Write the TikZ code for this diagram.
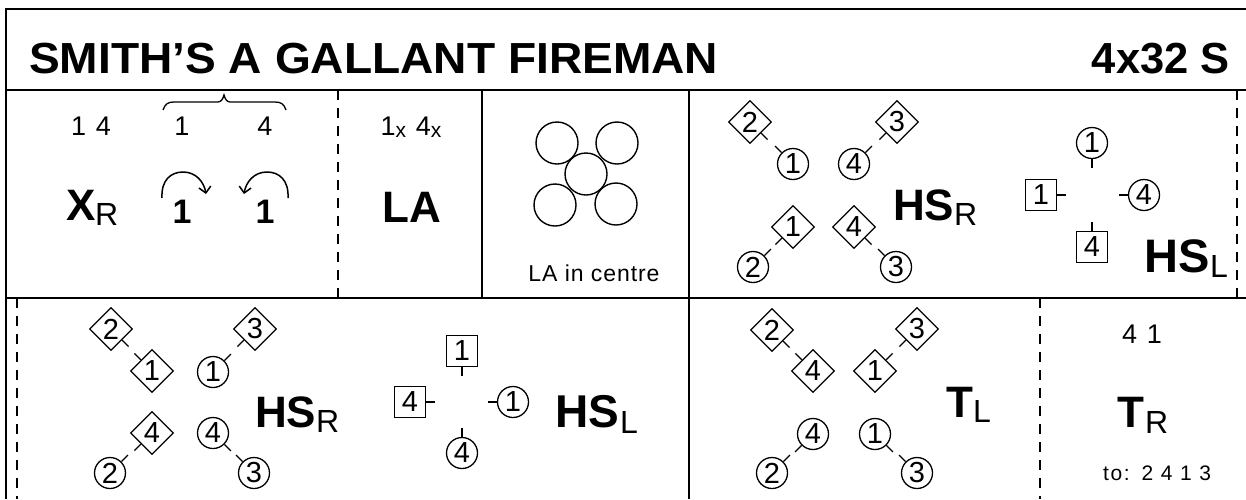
\documentclass[tikz,border=0pt]{standalone}
\usepackage{fontspec}
\setmainfont{Liberation Sans}
\newfontfamily\spc[LetterSpace=8]{Liberation Sans}
\newfontfamily\spcb[LetterSpace=4]{Liberation Sans}
\usetikzlibrary{shapes.geometric,arrows.meta}
\begin{document}
\begin{tikzpicture}[x=1pt,y=-1pt,
  frame/.style={line width=2pt},
  dashline/.style={line width=1.4pt,dash pattern=on 10pt off 8pt},
  shp/.style={draw,inner sep=0pt,line width=1.3pt,font=\fontsize{29}{29}\selectfont},
  dia/.style={shp,diamond,shape aspect=1,minimum size=43pt},
  crc/.style={shp,circle,minimum size=31pt},
  sqr/.style={shp,rectangle,minimum size=31pt},
  tick/.style={line width=1.3pt},
  big/.style={anchor=base west,inner sep=0pt,font=\fontsize{44}{44}\selectfont\bfseries},
  sub/.style={anchor=base west,inner sep=0pt,font=\fontsize{32}{32}\selectfont},
  small/.style={anchor=base,inner sep=0pt,font=\spc\fontsize{27}{27}\selectfont},
  bnum/.style={anchor=base,inner sep=0pt,font=\fontsize{34}{34}\selectfont\bfseries},
  arc/.style={line width=1.5pt,-{Straight Barb[length=6pt,width=12pt]}},
]
\useasboundingbox (0,0) rectangle (1246,499);
% frame
\draw[frame] (6,499) -- (6,9) -- (1250,9);
\draw[frame] (6,90) -- (1250,90);
\draw[frame] (6,298) -- (1250,298);
\draw[frame] (482,90) -- (482,298);
\draw[frame] (689,90) -- (689,499);
\draw[dashline] (338,90) -- (338,298);
\draw[dashline] (1237,90) -- (1237,298);
\draw[dashline] (17,298) -- (17,499);
\draw[dashline] (1040,298) -- (1040,499);
% title
\node[anchor=base west,inner sep=0pt,font=\fontsize{43.5}{43.5}\selectfont\bfseries] (title) at (29,73) {\scalebox{1.06}[1]{SMITH'S A GALLANT FIREMAN}};
\node[anchor=base east,inner sep=0pt,font=\fontsize{43.5}{43.5}\selectfont\bfseries] (form) at (1230,73) {4x32 S};
% cell 1
\node[small] (n14) at (91,135) {1 4};
\node[small] (n1) at (182,135) {1};
\node[small] (n4) at (265,135) {4};
\draw[line width=1.3pt] (163,110) .. controls (165,104) and (168,102) .. (174,102) -- (218,102) .. controls (221,102) and (223,99) .. (224,95) .. controls (225,99) and (227,102) .. (230,102) -- (275,102) .. controls (281,102) and (284,104) .. (286,110);
\node[big] (x) at (66,220) {X};
\node[sub] (xr) at (95,225) {R};
\draw[arc] (162,198) .. controls (161,180) and (171,172) .. (183,172) .. controls (196,172) and (204,182) .. (206,194);
\draw[arc] (288,198) .. controls (289,180) and (279,172) .. (267,172) .. controls (254,172) and (246,182) .. (244,194);
\node[bnum] (b1) at (182,223) {1};
\node[bnum] (b2) at (265,223) {1};
% cell 2
\node[small] (lax) at (411,135) {1{\fontsize{21}{21}\selectfont\raisebox{-2pt}{x}} 4{\fontsize{21}{21}\selectfont\raisebox{-2pt}{x}}};
\node[big] (la) at (382,222) {LA};
% cell 3
\foreach \p in {(557,143),(617,143),(586,174),(555,205),(616,204)}
  \draw[line width=1.4pt] \p circle[radius=21pt];
\node[anchor=base,inner sep=0pt,font=\spcb\fontsize{23}{23}\selectfont] (lac) at (594,281) {LA in centre};
% cell 4
\node[dia] (a2) at (750,122) {2}; \draw[tick] (a2.-45) -- ++(6.5,6.5);
\node[crc] (a1) at (793,164) {1}; \draw[tick] (a1.135) -- ++(-6.5,-6.5);
\node[dia] (a3) at (897,122) {3}; \draw[tick] (a3.-135) -- ++(-6.5,6.5);
\node[crc] (a4) at (854,164) {4}; \draw[tick] (a4.45) -- ++(6.5,-6.5);
\node[dia] (c1d) at (793,227) {1}; \draw[tick] (c1d.-135) -- ++(-6.5,6.5);
\node[crc] (c2) at (753,267) {2}; \draw[tick] (c2.45) -- ++(6.5,-6.5);
\node[dia] (c4d) at (854,227) {4}; \draw[tick] (c4d.-45) -- ++(6.5,6.5);
\node[crc] (c3) at (896,267) {3}; \draw[tick] (c3.135) -- ++(-6.5,-6.5);
\node[big] (hs1) at (893,220) {HS};
\node[sub] (hs1r) at (954,225) {R};
% cell 5
\node[crc] (h1) at (1092,143) {1}; \draw[tick] (h1.south) -- ++(0,9);
\node[sqr] (s1) at (1041,195) {1}; \draw[tick] (s1.east) -- ++(9,0);
\node[crc] (h4) at (1144,195) {4}; \draw[tick] (h4.west) -- ++(-9,0);
\node[sqr] (s4) at (1092,247) {4}; \draw[tick] (s4.north) -- ++(0,-9);
\node[big,font=\fontsize{47}{47}\selectfont\bfseries] (hs2) at (1144,272) {HS};
\node[sub] (hs2l) at (1210,277) {L};
% row 2 HS_R
\node[dia] (d2) at (111,329) {2}; \draw[tick] (d2.-45) -- ++(6.5,6.5);
\node[dia] (d1) at (152,371) {1}; \draw[tick] (d1.135) -- ++(-6.5,-6.5);
\node[dia] (d3) at (255,329) {3}; \draw[tick] (d3.-135) -- ++(-6.5,6.5);
\node[crc] (e1) at (213,372) {1}; \draw[tick] (e1.45) -- ++(6.5,-6.5);
\node[dia] (d4) at (152,433) {4}; \draw[tick] (d4.-135) -- ++(-6.5,6.5);
\node[crc] (e2) at (110,473) {2}; \draw[tick] (e2.45) -- ++(6.5,-6.5);
\node[crc] (e4) at (213,433) {4}; \draw[tick] (e4.-45) -- ++(6.5,6.5);
\node[crc] (e3) at (254,473) {3}; \draw[tick] (e3.135) -- ++(-6.5,-6.5);
\node[big] (hs3) at (255,427) {HS};
\node[sub] (hs3r) at (316,432) {R};
% row 2 HS_L
\node[sqr] (q1) at (462,351) {1}; \draw[tick] (q1.south) -- ++(0,9);
\node[sqr] (q4) at (410,402) {4}; \draw[tick] (q4.east) -- ++(9,0);
\node[crc] (r1) at (513,402) {1}; \draw[tick] (r1.west) -- ++(-9,0);
\node[crc] (r4) at (462,453) {4}; \draw[tick] (r4.north) -- ++(0,-9);
\node[big,font=\fontsize{46}{46}\selectfont\bfseries] (hs4) at (555,427) {HS};
\node[sub] (hs4l) at (620,433) {L};
% row 2 T_L
\node[dia] (f2) at (772,330) {2}; \draw[tick] (f2.-45) -- ++(6.5,6.5);
\node[dia] (f4) at (813,371) {4}; \draw[tick] (f4.135) -- ++(-6.5,-6.5);
\node[dia] (f3) at (917,329) {3}; \draw[tick] (f3.-135) -- ++(-6.5,6.5);
\node[dia] (f1) at (875,371) {1}; \draw[tick] (f1.45) -- ++(6.5,-6.5);
\node[crc] (g4) at (813,434) {4}; \draw[tick] (g4.-135) -- ++(-6.5,6.5);
\node[crc] (g2) at (772,473) {2}; \draw[tick] (g2.45) -- ++(6.5,-6.5);
\node[crc] (g1) at (875,434) {1}; \draw[tick] (g1.-45) -- ++(6.5,6.5);
\node[crc] (g3) at (917,473) {3}; \draw[tick] (g3.135) -- ++(-6.5,-6.5);
\node[big] (tl) at (946,417) {T};
\node[sub] (tll) at (973,422) {L};
% row 2 T_R
\node[small] (n41) at (1142,343) {4 1};
\node[big] (tr) at (1117,427) {T};
\node[sub] (trr) at (1145,433) {R};
\node[anchor=base,inner sep=0pt,font=\spc\fontsize{21}{21}\selectfont] (to) at (1157,480) {to:\hspace{12pt}2 4 1 3};
\end{tikzpicture}
\end{document}
